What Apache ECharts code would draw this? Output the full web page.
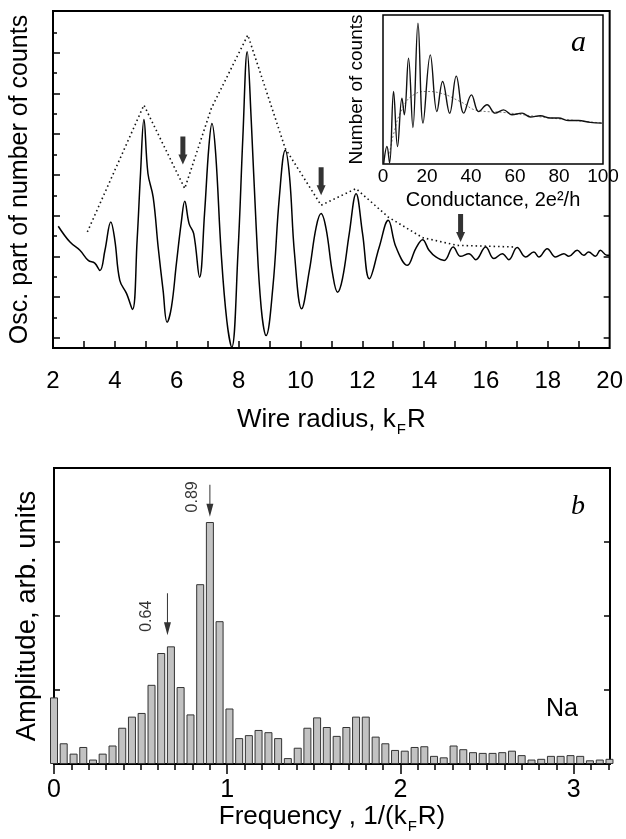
<!DOCTYPE html>
<html>
<head>
<meta charset="utf-8">
<script src="https://cdn.jsdelivr.net/npm/echarts@6/dist/echarts.min.js"></script>
<style>
html,body{margin:0;padding:0;background:#fff;}
#chart{width:626px;height:839px;}
</style>
</head>
<body>
<div id="chart"></div>
<script>
// ---------- Panel a: oscillating part vs wire radius ----------
const radiusX = [2.17,2.55,2.87,3.14,3.35,3.52,3.68,3.87,4.00,4.16,4.38,4.57,4.72,4.83,4.94,5.07,5.24,5.40,5.56,5.69,5.83,5.99,6.15,6.26,6.40,6.55,6.74,6.90,7.04,7.14,7.26,7.44,7.62,7.78,7.98,8.14,8.28,8.41,8.57,8.73,8.89,9.11,9.32,9.51,9.65,9.81,10.04,10.29,10.51,10.67,10.83,11.04,11.20,11.36,11.58,11.80,12.01,12.23,12.55,12.84,13.09,13.46,13.73,13.95,14.16,14.38,14.65,14.94,15.18,15.45,15.67,15.99,16.26,16.53,16.74,17.01,17.28,17.55,17.71,17.98,18.25,18.52,18.68,18.95,19.16,19.32,19.54,19.70,19.91,20.0];
const oscCounts = [1.48,0.70,0.30,-0.20,-0.33,-0.69,0.30,1.69,0.79,-1.18,-1.83,-2.61,0.79,4.07,6.72,4.07,2.90,0.46,-1.67,-3.23,-2.49,-0.36,1.69,2.71,1.61,1.12,-1.02,2.10,5.38,6.53,5.05,0.13,-3.15,-4.46,0.13,5.87,10.05,6.69,1.44,-2.49,-3.89,-1.51,2.92,5.21,3.90,0.13,-2.57,-0.69,1.44,2.10,1.36,-0.85,-1.76,-1.10,1.12,3.08,1.12,-1.10,0.46,1.77,0.46,-0.44,0.38,0.82,0.30,-0.03,-0.20,0.46,0.00,0.13,-0.16,0.46,-0.11,0.13,-0.16,0.43,-0.03,0.21,-0.03,0.38,-0.03,0.13,0.00,0.30,0.05,0.21,0.00,0.30,0.05,0.05];
const envelopeX = [3.11,4.94,6.26,7.12,8.30,9.51,10.67,11.80,12.84,13.95,15.07,16.96];
const envelopeY = [1.20,7.43,3.33,7.27,10.87,5.30,2.51,3.33,1.93,0.92,0.54,0.46];
const arrowAX = [6.20,10.67,15.18];
const arrowATip = [4.51,3.00,0.70];
const radiusLabels = [2,4,6,8,10,12,14,16,18,20];

// ---------- Inset: histogram of conductance ----------
const condX = [0.3,1.8,3.0,4.8,6.6,8.6,9.7,11.6,13.6,15.9,18.2,21.5,24.5,27.1,30.3,33.3,36.7,40.2,43.5,47.3,51,54.8,58.6,63.2,67,71.5,76,79.8,84.4,88.9,94.2,99.5];
const condCounts = [0,1.0,0.06,4.15,1.0,3.77,2.82,6.06,2.09,8.06,2.34,6.25,3.0,4.72,2.91,5.03,2.91,3.96,3.0,3.39,2.91,3.1,2.82,2.91,2.69,2.76,2.63,2.63,2.49,2.49,2.38,2.34];
const condFitX = [3,5,8.6,13.9,20,26,35,43.5,55,70,85,100];
const condFitY = [0.6,1.8,3.1,3.96,4.15,4.06,3.58,3.05,2.95,2.72,2.52,2.34];
const condLabels = [0,20,40,60,80,100];

// ---------- Panel b: Fourier spectrum ----------
const freq = [0,0.056,0.113,0.169,0.225,0.281,0.338,0.394,0.450,0.506,0.563,0.619,0.675,0.731,0.788,0.844,0.900,0.956,1.013,1.069,1.125,1.181,1.238,1.294,1.350,1.407,1.463,1.519,1.575,1.632,1.688,1.744,1.800,1.857,1.913,1.969,2.025,2.082,2.138,2.194,2.250,2.307,2.363,2.419,2.475,2.532,2.588,2.644,2.700,2.757,2.813,2.869,2.925,2.982,3.038,3.094,3.151,3.207];
const amplitude = [0.90,0.28,0.14,0.23,0.06,0.14,0.25,0.49,0.64,0.69,1.07,1.50,1.59,1.04,0.67,2.43,3.27,1.93,0.75,0.35,0.39,0.46,0.43,0.35,0.08,0.22,0.49,0.63,0.50,0.38,0.50,0.64,0.64,0.37,0.28,0.19,0.18,0.23,0.24,0.11,0.09,0.25,0.20,0.16,0.15,0.15,0.16,0.18,0.12,0.06,0.07,0.11,0.11,0.12,0.11,0.05,0.06,0.07];
const arrowBX = [0.655,0.90];
const arrowBTip = [1.74,3.34];
const arrowBLabels = ['0.64','0.89'];
const freqLabels = [0,1,2,3];

// ---------- build ----------
const zip = (a, b) => a.map((v, i) => [v, b[i]]);
const FONT = '"Liberation Sans", Arial, Helvetica, sans-serif';
const range = (a, b, s) => { const r = []; for (let v = a; v <= b + 1e-9; v += s) r.push(+v.toFixed(3)); return r; };

const thickArrow = 'path://M2,0L7,0L7,18L9,18L4.5,28L0,18L2,18Z';
function thinArrow(len) {
  const h = len - 13;
  return 'path://M3,0L4,0L4,' + h + 'L7,' + h + 'L3.5,' + len + 'L0,' + h + 'L3,' + h + 'Z';
}
const bLens = [42, 32];
const bLabelPos = [[-17, 23], [-14, 12]];

const tickStyle = {color: '#000', width: 1.5};
const noLine = {show: false, onZero: false};
const chart = echarts.init(document.getElementById('chart'), null, {renderer: 'canvas'});
const option = {
  animation: false,
  backgroundColor: '#fff',
  textStyle: {fontFamily: FONT, color: '#000'},
  grid: [
    {left: 53, top: 11, width: 558, height: 337, show: true, borderColor: '#000', borderWidth: 2, backgroundColor: 'transparent'},
    {left: 383, top: 15, width: 220, height: 149, show: true, borderColor: '#000', borderWidth: 1.5, backgroundColor: '#fff', z: 3},
    {left: 54, top: 468, width: 556, height: 296, show: true, borderColor: '#000', borderWidth: 2, backgroundColor: 'transparent'}
  ],
  xAxis: [
    {gridIndex: 0, type: 'value', position: 'bottom', min: 2, max: 20, interval: 2,
     axisLine: noLine, splitLine: {show: false},
     axisTick: {show: true, inside: true, length: 7, lineStyle: tickStyle, customValues: range(3, 19, 1)},
     axisLabel: {show: true, fontSize: 24, color: '#000', margin: 21, fontFamily: FONT, customValues: radiusLabels},
     name: 'Wire radius, k{sub|F}R', nameLocation: 'middle', nameGap: 59,
     nameTextStyle: {fontSize: 26, color: '#000', fontFamily: FONT, rich: {sub: {fontSize: 15, verticalAlign: 'bottom', fontFamily: FONT, padding: [0, 1, -4, 1]}}}},
    {gridIndex: 1, type: 'value', position: 'bottom', min: 0, max: 100, interval: 20,
     axisLine: noLine, splitLine: {show: false},
     axisTick: {show: true, inside: true, length: 4, lineStyle: {color: '#000', width: 1}, customValues: range(5, 95, 5)},
     axisLabel: {show: true, fontSize: 19, color: '#000', margin: 3, fontFamily: FONT, customValues: condLabels},
     name: 'Conductance, 2e²/h', nameLocation: 'middle', nameGap: 26,
     nameTextStyle: {fontSize: 20, color: '#000', fontFamily: FONT}},
    {gridIndex: 2, type: 'value', position: 'bottom', min: 0, max: 3.21,
     axisLine: noLine, splitLine: {show: false},
     axisTick: {show: true, inside: false, length: 10, lineStyle: tickStyle, customValues: freqLabels},
     axisLabel: {show: true, fontSize: 25, color: '#000', margin: 14, fontFamily: FONT, customValues: freqLabels},
     name: 'Frequency , 1/(k{sub|F}R)', nameLocation: 'middle', nameGap: 36,
     nameTextStyle: {fontSize: 26, color: '#000', fontFamily: FONT, rich: {sub: {fontSize: 15, verticalAlign: 'bottom', fontFamily: FONT, padding: [0, 1, -4, 1]}}}},
    {gridIndex: 2, type: 'value', position: 'bottom', min: 0, max: 3.21,
     axisLine: noLine, splitLine: {show: false},
     axisTick: {show: true, inside: false, length: 6, lineStyle: tickStyle,
       customValues: range(0.1, 3.2, 0.1).filter(v => Math.abs(v - Math.round(v)) > 1e-6)},
     axisLabel: {show: false}}
  ],
  yAxis: [
    {gridIndex: 0, type: 'value', position: 'left', min: -4.5, max: 12.05,
     axisLine: noLine, splitLine: {show: false},
     axisTick: {show: true, inside: true, length: 7, lineStyle: tickStyle, customValues: [-4,-2,0,2,4,6,8,10]},
     axisLabel: {show: false},
     name: 'Osc. part of number of counts', nameLocation: 'middle', nameGap: 20,
     nameTextStyle: {fontSize: 25, color: '#000', fontFamily: FONT}},
    {gridIndex: 0, type: 'value', position: 'left', min: -4.5, max: 12.05,
     axisLine: noLine, splitLine: {show: false},
     axisTick: {show: true, inside: true, length: 4, lineStyle: tickStyle, customValues: [-3,-1,1,3,5,7,9,11]},
     axisLabel: {show: false}},
    {gridIndex: 0, type: 'value', position: 'right', min: -4.5, max: 12.05,
     axisLine: noLine, splitLine: {show: false},
     axisTick: {show: true, inside: true, length: 6, lineStyle: tickStyle, customValues: [-4,-2,0,2]},
     axisLabel: {show: false}},
    {gridIndex: 1, type: 'value', position: 'left', min: 0, max: 8.53,
     axisLine: noLine, splitLine: {show: false},
     axisTick: {show: true, inside: true, length: 5, lineStyle: {color: '#000', width: 1}, customValues: [2,4,6,8]},
     axisLabel: {show: false},
     name: 'Number of counts', nameLocation: 'middle', nameGap: 17,
     nameTextStyle: {fontSize: 19, color: '#000', fontFamily: FONT}},
    {gridIndex: 1, type: 'value', position: 'left', min: 0, max: 8.53,
     axisLine: noLine, splitLine: {show: false},
     axisTick: {show: true, inside: true, length: 3, lineStyle: {color: '#000', width: 1}, customValues: [1,3,5,7]},
     axisLabel: {show: false}},
    {gridIndex: 2, type: 'value', position: 'left', min: 0, max: 4,
     axisLine: noLine, splitLine: {show: false},
     axisTick: {show: true, inside: true, length: 6, lineStyle: tickStyle, customValues: [1,2,3]},
     axisLabel: {show: false},
     name: 'Amplitude, arb. units', nameLocation: 'middle', nameGap: 13,
     nameTextStyle: {fontSize: 27.5, color: '#000', fontFamily: FONT}},
    {gridIndex: 2, type: 'value', position: 'right', min: 0, max: 4,
     axisLine: noLine, splitLine: {show: false},
     axisTick: {show: true, inside: true, length: 6, lineStyle: tickStyle, customValues: [1,2,3]},
     axisLabel: {show: false}}
  ],
  series: [
    {type: 'line', xAxisIndex: 0, yAxisIndex: 0, data: zip(radiusX, oscCounts), smooth: 0.4,
     showSymbol: false, lineStyle: {color: '#000', width: 1.5}, z: 2},
    {type: 'line', xAxisIndex: 0, yAxisIndex: 0, data: zip(envelopeX, envelopeY), smooth: false,
     showSymbol: false, lineStyle: {color: '#111', width: 1.6, type: [1.5, 3]}, z: 2},
    {type: 'scatter', xAxisIndex: 0, yAxisIndex: 0, data: zip(arrowAX, arrowATip),
     symbol: thickArrow, symbolSize: [9, 28], symbolOffset: [0, -14],
     itemStyle: {color: '#000'}, z: 4},
    {type: 'line', xAxisIndex: 1, yAxisIndex: 3, data: zip(condFitX, condFitY), smooth: 0.5,
     showSymbol: false, lineStyle: {color: '#777', width: 1, type: [2, 2]}, z: 6},
    {type: 'line', xAxisIndex: 1, yAxisIndex: 3, data: zip(condX, condCounts), smooth: 0.4,
     showSymbol: false, lineStyle: {color: '#111', width: 1.4}, z: 7},
    {type: 'bar', xAxisIndex: 2, yAxisIndex: 5, data: zip(freq, amplitude), barWidth: 8, clip: true,
     itemStyle: {color: '#c2c2c2', borderColor: '#333', borderWidth: 1}, z: 2},
    {type: 'scatter', xAxisIndex: 2, yAxisIndex: 5,
     data: arrowBX.map((x, i) => ({
       value: [x, arrowBTip[i]], name: arrowBLabels[i],
       symbol: thinArrow(bLens[i]), symbolSize: [7, bLens[i]], symbolOffset: [0, -bLens[i] / 2],
       label: {show: true, position: bLabelPos[i]}
     })),
     itemStyle: {color: '#000'},
     label: {show: true, formatter: p => p.name, rotate: 90, fontSize: 16, color: '#000', fontFamily: FONT,
             align: 'center', verticalAlign: 'middle'},
     z: 4}
  ],
  graphic: [
    {type: 'text', left: 571, top: 28, z: 10, style: {text: 'a', font: 'italic 30px "Liberation Serif", "DejaVu Serif", serif', fill: '#000'}},
    {type: 'text', left: 571, top: 493, z: 10, style: {text: 'b', font: 'italic 28px "Liberation Serif", "DejaVu Serif", serif', fill: '#000'}},
    {type: 'text', left: 546, top: 697, z: 10, style: {text: 'Na', font: '25px "Liberation Sans", Arial, sans-serif', fill: '#000'}}
  ]
};
chart.setOption(option);
</script>
</body>
</html>
